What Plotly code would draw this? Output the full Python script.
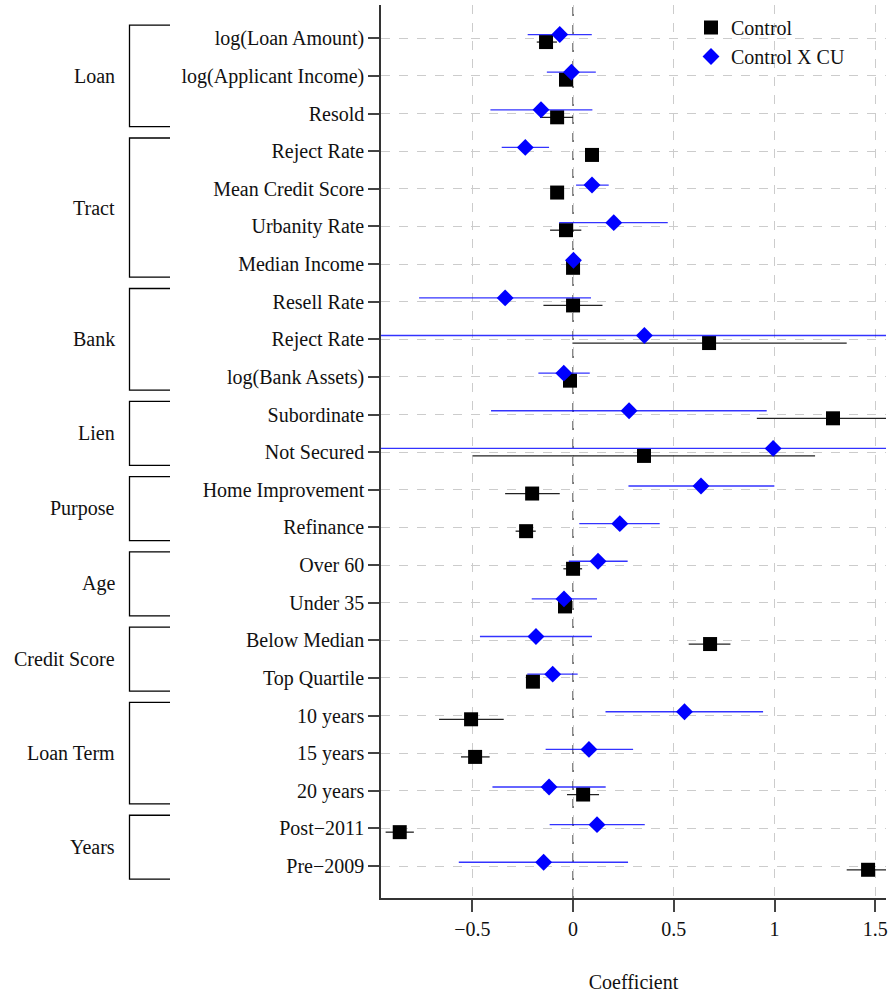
import plotly.graph_objects as go

labels = ["log(Loan Amount)", "log(Applicant Income)", "Resold",
          "Reject Rate", "Mean Credit Score", "Urbanity Rate", "Median Income",
          "Resell Rate", "Reject Rate", "log(Bank Assets)",
          "Subordinate", "Not Secured",
          "Home Improvement", "Refinance",
          "Over 60", "Under 35",
          "Below Median", "Top Quartile",
          "10 years", "15 years", "20 years",
          "Post\u22122011", "Pre\u22122009"]

group_names = ["Loan", "Tract", "Bank", "Lien", "Purpose", "Age",
               "Credit Score", "Loan Term", "Years"]
group_sizes = [3, 4, 3, 2, 2, 2, 2, 3, 2]

control_est = [-0.134, -0.035, -0.079, 0.094, -0.079, -0.035, 0.0,
               0.0, 0.675, -0.015, 1.29, 0.352, -0.203, -0.233,
               0.0, -0.04, 0.68, -0.199, -0.506, -0.486, 0.05, -0.86, 1.464]
control_lo = [-0.18, -0.05, -0.164, 0.08, -0.09, -0.114, -0.01,
              -0.147, -0.003, -0.03, 0.912, -0.498, -0.337, -0.285,
              -0.048, -0.055, 0.574, -0.215, -0.665, -0.556, -0.03, -0.93, 1.358]
control_hi = [-0.08, -0.02, 0.0, 0.108, -0.07, 0.041, 0.01,
              0.146, 1.358, 0.0, 1.70, 1.201, -0.066, -0.185,
              0.045, -0.025, 0.781, -0.185, -0.344, -0.414, 0.129, -0.79, 1.60]

cu_est = [-0.066, -0.008, -0.159, -0.237, 0.094, 0.202, 0.002,
          -0.337, 0.354, -0.046, 0.278, 0.993, 0.635, 0.232,
          0.124, -0.045, -0.184, -0.101, 0.553, 0.079, -0.119, 0.119, -0.146]
cu_lo = [-0.225, -0.13, -0.41, -0.354, 0.015, -0.069, -0.01,
         -0.764, -1.2, -0.172, -0.407, -1.2, 0.275, 0.031,
         -0.021, -0.205, -0.462, -0.227, 0.161, -0.136, -0.4, -0.116, -0.567]
cu_hi = [0.093, 0.113, 0.096, -0.119, 0.177, 0.47, 0.015,
         0.089, 1.9, 0.083, 0.961, 3.0, 0.999, 0.43,
         0.271, 0.119, 0.094, 0.023, 0.943, 0.298, 0.162, 0.356, 0.273]

x_ticks = [-0.5, 0, 0.5, 1, 1.5]
x_tick_text = ["\u22120.5", "0", "0.5", "1", "1.5"]

FONT = "Liberation Serif"
rows = list(range(len(labels)))
off = 0.1

fig = go.Figure()
fig.add_trace(go.Scatter(
    x=control_est, y=[r + off for r in rows], mode="markers", name="Control",
    marker=dict(symbol="square", size=14, color="black"),
    error_x=dict(type="data", symmetric=False,
                 array=[h - e for h, e in zip(control_hi, control_est)],
                 arrayminus=[e - l for e, l in zip(control_est, control_lo)],
                 color="#222222", thickness=1.3, width=0),
))
fig.add_trace(go.Scatter(
    x=cu_est, y=[r - off for r in rows], mode="markers", name="Control X CU",
    marker=dict(symbol="diamond", size=13, color="blue"),
    error_x=dict(type="data", symmetric=False,
                 array=[h - e for h, e in zip(cu_hi, cu_est)],
                 arrayminus=[e - l for e, l in zip(cu_est, cu_lo)],
                 color="rgba(0,0,255,0.8)", thickness=1.3, width=0),
))

shapes = [dict(type="line", xref="x", yref="paper", x0=0, x1=0, y0=0, y1=1,
               line=dict(color="#555555", width=1.5, dash="dash"), layer="between")]
annotations = []
start = 0
px_left, px_w = 381, 505
def pf(px):
    return (px - px_left) / px_w
for name, n in zip(group_names, group_sizes):
    top = start - 0.35
    bot = start + n - 1 + 0.35
    xv, xh = pf(129.5), pf(170)
    shapes.append(dict(type="path", xref="paper", yref="y",
                       path=f"M {xh} {top} L {xv} {top} L {xv} {bot} L {xh} {bot}",
                       line=dict(color="black", width=1.3)))
    annotations.append(dict(xref="paper", yref="y", x=pf(117), y=start + (n - 1) / 2,
                            text=name, showarrow=False, xanchor="right", yanchor="middle",
                            font=dict(family=FONT, size=20, color="#111")))
    start += n

fig.update_layout(
    width=891, height=996,
    margin=dict(l=381, r=5, t=5, b=98),
    paper_bgcolor="white", plot_bgcolor="white",
    font=dict(family=FONT, size=20, color="#111"),
    shapes=shapes, annotations=annotations,
    showlegend=True,
    legend=dict(x=pf(691), xanchor="left", y=1.0 - 3 / 893, yanchor="top",
                bgcolor="rgba(0,0,0,0)", font=dict(family=FONT, size=20, color="#111"),
                tracegroupgap=0, itemsizing="trace"),
    xaxis=dict(range=[-0.953, 1.553], tickvals=x_ticks, ticktext=x_tick_text,
               showgrid=True, gridcolor="#cccccc", griddash="dash", gridwidth=1,
               zeroline=False, showline=True, linecolor="#333333", linewidth=1.5,
               ticks="outside", ticklen=12, tickcolor="#444444", tickwidth=1.5,
               tickfont=dict(family=FONT, size=20, color="#111"),
               automargin=False,
               title=dict(text="Coefficient", standoff=36,
                          font=dict(family=FONT, size=20, color="#111"))),
    yaxis=dict(range=[22.85, -0.885], tickvals=rows, ticktext=labels,
               showgrid=True, gridcolor="#cccccc", griddash="dash", gridwidth=1,
               zeroline=False, showline=True, linecolor="#333333", linewidth=1.5,
               ticks="outside", ticklen=11, tickcolor="#444444", tickwidth=1.5,
               automargin=False,
               tickfont=dict(family=FONT, size=20, color="#111")),
)

fig.write_html("out.html", config={"displayModeBar": False},
               post_script="document.body.style.margin='0';document.body.style.overflow='hidden';")
